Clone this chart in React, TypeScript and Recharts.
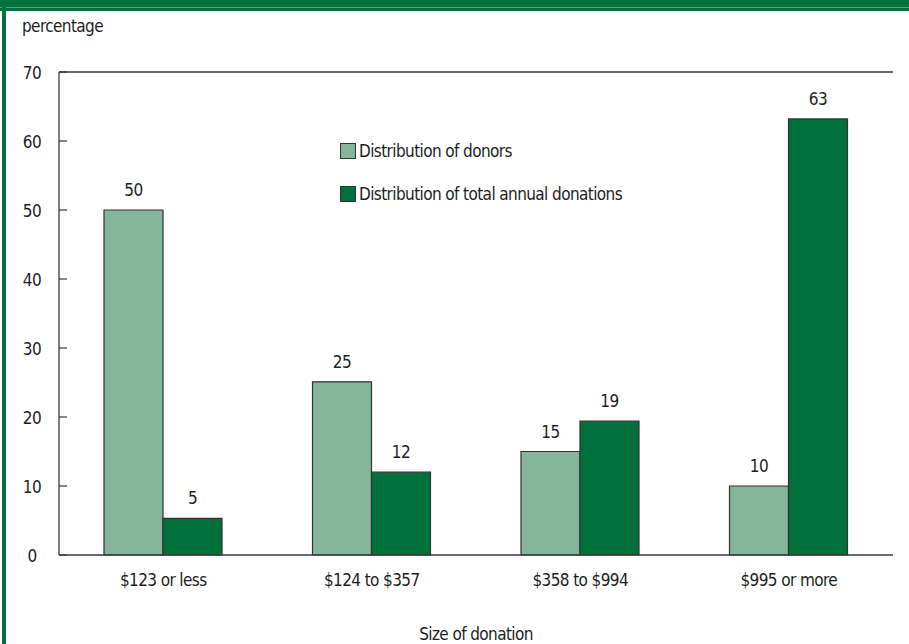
import React from 'react'
import { BarChart, Bar, XAxis, YAxis, Legend, LabelList, ReferenceLine, Label } from 'recharts'

const categories = ['$123 or less', '$124 to $357', '$358 to $994', '$995 or more']
const donors = [50, 25.1, 15, 10]
const donations = [5.3, 12, 19.4, 63.2]
const yTicks = [0, 10, 20, 30, 40, 50, 60, 70]

const series = [
  { key: 'donors', name: 'Distribution of donors', color: '#85b59b' },
  { key: 'donations', name: 'Distribution of total annual donations', color: '#00703c' },
]

const data = categories.map((c, i) => ({ cat: c, donors: donors[i], donations: donations[i] }))

const FONT = '"Liberation Sans Narrow", "DejaVu Sans Condensed", "Open Sans", sans-serif'
const INK = '#1e1e1e'
const AXIS = '#3a3a3a'
const TXT = { fontSize: 17, fill: INK, fontFamily: FONT, letterSpacing: -0.6 }

const YTick = (props: any) => {
  const { x, y, payload } = props
  return (
    <g>
      <line x1={x} x2={x + 8} y1={y} y2={y} stroke={AXIS} strokeWidth={1.2} />
      <text x={x - 27} y={y + 7} textAnchor="middle" style={TXT}>
        {payload.value}
      </text>
    </g>
  )
}

const LegendBox = () => (
  <div style={{ fontFamily: FONT, fontSize: 17, color: INK, letterSpacing: -0.6 }}>
    {series.map((s, i) => (
      <div key={s.key} style={{ display: 'flex', alignItems: 'center', height: 20, marginBottom: i === 0 ? 23 : 0 }}>
        <span
          style={{
            display: 'inline-block',
            width: 14,
            height: 14,
            background: s.color,
            border: '1px solid #333',
            marginRight: 3,
          }}
        />
        <span>{s.name}</span>
      </div>
    ))}
  </div>
)

export default function App() {
  return (
    <div style={{ position: 'absolute', left: 0, top: 0, width: 909, height: 644, background: '#fff', overflow: 'hidden' }}>
      <div style={{ position: 'absolute', left: 0, top: 0, width: 909, height: 11, background: '#00703c' }} />
      <div style={{ position: 'absolute', left: 0, top: 7, width: 909, height: 1, background: '#5f9f7d' }} />
      <div style={{ position: 'absolute', left: 2, top: 0, width: 4, height: 644, background: '#00703c' }} />
      <div style={{ position: 'absolute', left: 22, top: 16, fontFamily: FONT, fontSize: 17, color: INK, letterSpacing: -0.6 }}>
        percentage
      </div>
      <div style={{ position: 'absolute', left: 0, top: 0 }}>
        <BarChart
          width={909}
          height={644}
          data={data}
          margin={{ top: 72, right: 16, bottom: 59, left: 9 }}
          barGap={0}
          barSize={59}
        >
          <XAxis
            dataKey="cat"
            axisLine={{ stroke: AXIS, strokeWidth: 1.3 }}
            tickLine={false}
            tickSize={0}
            tickMargin={19}
            tick={TXT}
            height={30}
          >
            <Label value="Size of donation" position="bottom" offset={43} style={TXT} />
          </XAxis>
          <YAxis
            domain={[0, 70]}
            ticks={yTicks}
            interval={0}
            width={50}
            axisLine={{ stroke: AXIS, strokeWidth: 1.3 }}
            tickLine={false}
            tickSize={0}
            tickMargin={0}
            tick={<YTick />}
          />
          <YAxis
            yAxisId="right"
            orientation="right"
            domain={[0, 70]}
            width={0}
            tick={false}
            tickLine={false}
            axisLine={{ stroke: AXIS, strokeWidth: 1.3 }}
          />
          <ReferenceLine y={70} stroke={AXIS} strokeWidth={1.3} />
          <Legend
            content={<LegendBox />}
            layout="horizontal"
            verticalAlign="middle"
            align="center"
            wrapperStyle={{ left: 340, top: 141, width: 320 }}
          />
          {series.map((s) => (
            <Bar
              key={s.key}
              dataKey={s.key}
              name={s.name}
              fill={s.color}
              stroke="#333"
              strokeWidth={1.2}
              isAnimationActive={false}
            >
              <LabelList
                dataKey={s.key}
                position="top"
                offset={14}
                formatter={(v: any) => Math.round(Number(v))}
                style={TXT}
              />
            </Bar>
          ))}
        </BarChart>
      </div>
    </div>
  )
}
